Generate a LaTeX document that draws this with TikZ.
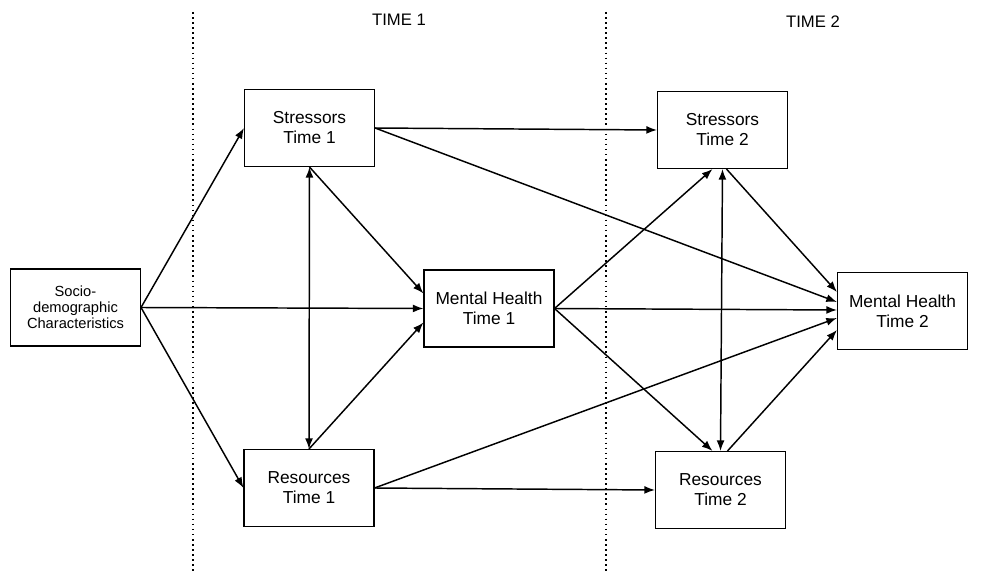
\documentclass[tikz,border=0pt]{standalone}
\usepackage{fontspec}
\setmainfont{Liberation Sans}
\usetikzlibrary{arrows.meta,calc}
\begin{document}
\begin{tikzpicture}[x=0.75pt,y=-0.75pt,
  box/.style={draw,line width=0.8pt,minimum width=97.5pt,minimum height=57.75pt,align=center,inner sep=0pt,font=\fontsize{13}{15}\selectfont},
  sdbox/.style={box,font=\fontsize{11}{12}\selectfont},
  conn/.style={line width=1.1pt,-{Latex[length=8pt,width=6pt]}},
  both/.style={line width=1.1pt,{Latex[length=8pt,width=6pt]}-{Latex[length=8pt,width=6pt]}},
  divider/.style={line width=1.4pt,dash pattern=on 1.2pt off 2.6pt},
  hdr/.style={font=\fontsize{12.5}{15}\selectfont}]
\useasboundingbox[fill=white] (0,0) rectangle (1008,574);
% dividers
\coordinate (d1a) at (193,12);
\coordinate (d1b) at (193,572);
\coordinate (d2a) at (606,12);
\coordinate (d2b) at (606,572);
\draw[divider] (d1a) -- (d1b);
\draw[divider] (d2a) -- (d2b);
% headers
\node[hdr] (t1) at (399,20) {TIME 1};
\node[hdr] (t2) at (813,22) {TIME 2};
% boxes
\node[sdbox] (sd) at (75.5,307.5) {Socio-\\demographic\\Characteristics};
\node[box] (s1) at (309.5,128) {Stressors\\Time 1};
\node[box] (r1) at (309,488) {Resources\\Time 1};
\node[box] (m1) at (489,308.5) {Mental Health\\Time 1};
\node[box] (s2) at (722.5,130) {Stressors\\Time 2};
\node[box] (r2) at (720.5,490) {Resources\\Time 2};
\node[box] (m2) at (902.5,311) {Mental Health\\Time 2};
% connectors
\draw[conn] (sd.east) -- (s1.west);
\draw[conn] (sd.east) -- (m1.west);
\draw[conn] (sd.east) -- (r1.west);
\draw[both] (s1.south) -- (r1.north);
\draw[conn] (s1.south) -- ($(m1.west)+(0,-15)$);
\draw[conn] (r1.north) -- ($(m1.west)+(0,14)$);
\draw[conn] (s1.east) -- (s2.west);
\draw[conn] (s1.east) -- ($(m2.west)+(0,-9)$);
\draw[conn] (r1.east) -- (r2.west);
\draw[conn] (r1.east) -- ($(m2.west)+(0,7)$);
\draw[conn] (m1.east) -- ($(s2.south)+(-10,0)$);
\draw[conn] (m1.east) -- ($(r2.north)+(-8,0)$);
\draw[conn] (m1.east) -- ($(m2.west)+(0,-1)$);
\draw[both] (s2.south) -- (r2.north);
\draw[conn] ($(s2.south)+(4,0)$) -- ($(m2.west)+(0,-19)$);
\draw[conn] ($(r2.north)+(7,0)$) -- ($(m2.west)+(0,19)$);
\end{tikzpicture}
\end{document}
